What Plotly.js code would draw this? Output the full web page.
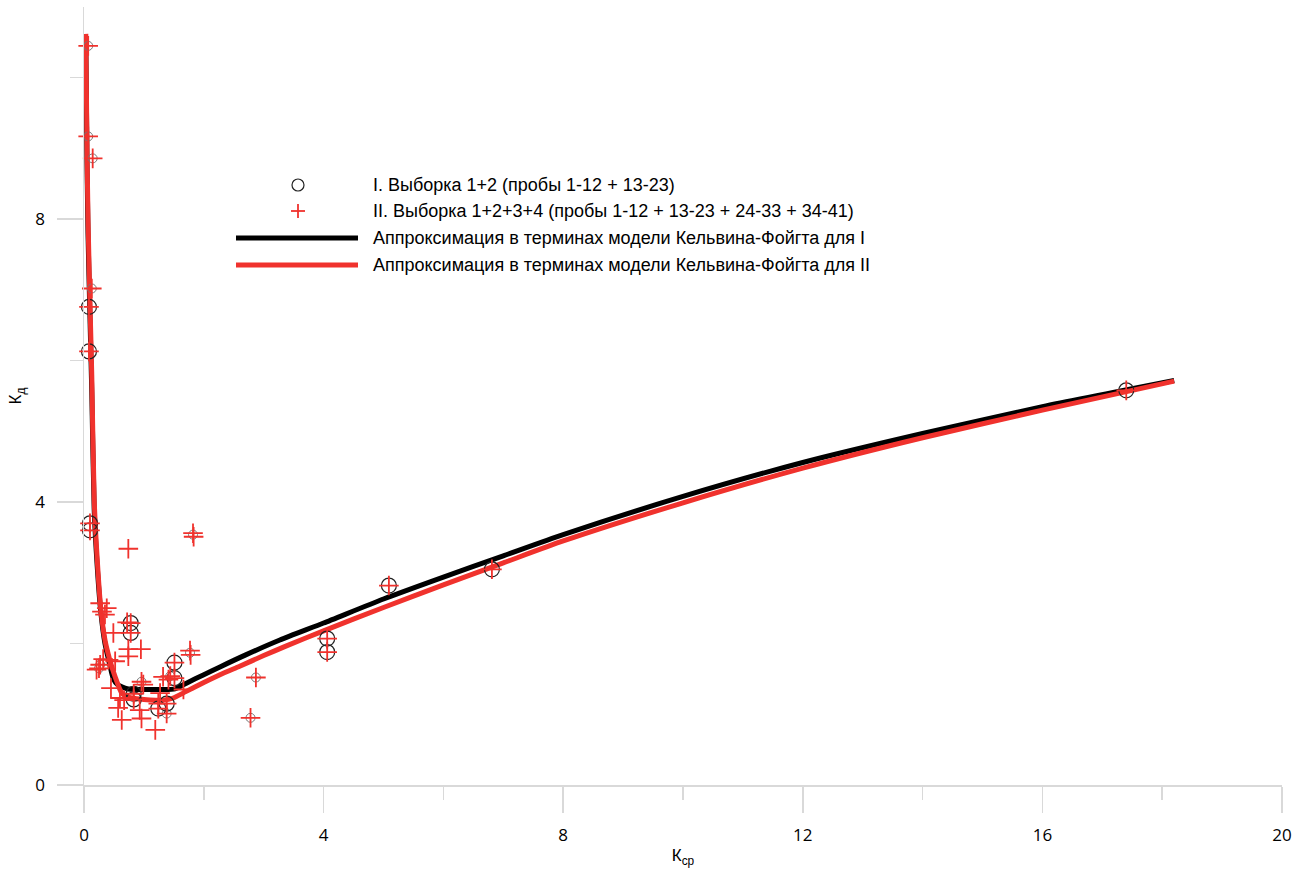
<!DOCTYPE html>
<html>
<head>
<meta charset="utf-8">
<script src="https://cdn.plot.ly/plotly-3.0.1.min.js"></script>
<style>html,body{margin:0;padding:0;background:#fff;}#chart{width:1301px;height:869px;}</style>
</head>
<body>
<div id="chart"></div>
<script>
// Set I (samples 1-23): large open circles
const kcp1 = [0.083, 0.083, 0.10, 0.10, 0.78, 0.78, 0.83, 0.83, 1.24, 1.38, 1.51, 1.51, 4.06, 4.06, 5.09, 6.81, 17.4];
const kd1  = [6.76, 6.13, 3.70, 3.60, 2.29, 2.15, 1.29, 1.21, 1.08, 1.15, 1.73, 1.51, 2.07, 1.88, 2.82, 3.05, 5.58];
// small grey circles
const kcpS = [0.07, 0.07, 0.145, 0.13, 1.82, 0.27, 0.25, 1.77, 0.96, 1.44, 1.38, 2.87, 2.78];
const kdS  = [10.45, 9.17, 8.86, 7.02, 3.54, 1.70, 1.65, 1.87, 1.46, 1.54, 1.01, 1.52, 0.95];
// Set II (samples 1-41): red crosses
const kcp2 = [0.083, 0.083, 0.10, 0.10, 0.78, 0.78, 0.83, 0.83, 1.24, 1.38, 1.51, 1.51, 4.06, 4.06, 5.09, 6.81, 17.4,
              0.07, 0.07, 0.145, 0.13, 1.82, 1.83, 0.27, 0.25, 1.77, 1.78, 0.96, 1.44, 1.38, 2.87, 2.78,
              0.74, 0.27, 0.38, 0.30, 0.35, 0.49, 0.72, 0.74, 0.95, 0.74, 0.41, 0.52, 0.21, 0.32,
              0.45, 0.60, 0.57, 0.63, 0.99, 0.93, 0.96, 1.19, 1.32, 1.41, 1.27, 1.24, 1.66, 0.67];
const kd2  = [6.76, 6.13, 3.70, 3.60, 2.29, 2.15, 1.29, 1.21, 1.08, 1.15, 1.73, 1.51, 2.07, 1.88, 2.82, 3.05, 5.58,
              10.45, 9.17, 8.86, 7.02, 3.56, 3.51, 1.70, 1.65, 1.90, 1.84, 1.46, 1.54, 1.01, 1.52, 0.95,
              3.34, 2.57, 2.50, 2.45, 2.41, 2.15, 2.30, 1.92, 1.92, 1.82, 1.77, 1.75, 1.63, 1.78,
              1.37, 1.23, 1.09, 0.92, 1.42, 1.06, 0.94, 0.78, 1.53, 1.49, 1.30, 1.15, 1.35, 1.20];
// Kelvin-Voigt approximation for I (black)
const fitXI = [0.03, 0.05, 0.067, 0.10, 0.13, 0.17, 0.22, 0.28, 0.35, 0.43, 0.49, 0.56, 0.63, 0.72, 0.88, 1.1, 1.3, 1.52, 1.71, 2.0, 2.27, 2.7, 3.27, 4.0, 5.0, 6.0, 7.0, 8.0, 10, 12, 14, 16, 18.2];
const fitYI = [10.55, 8.8, 7.8, 6.6, 5.55, 3.9, 3.1, 2.45, 2.0, 1.7, 1.5, 1.42, 1.39, 1.36, 1.35, 1.35, 1.35, 1.36, 1.44, 1.56, 1.67, 1.84, 2.05, 2.29, 2.63, 2.94, 3.24, 3.54, 4.08, 4.56, 4.97, 5.35, 5.72];
// Kelvin-Voigt approximation for II (red)
const fitXII = [0.03, 0.05, 0.067, 0.10, 0.13, 0.17, 0.22, 0.28, 0.35, 0.43, 0.52, 0.63, 0.72, 0.8, 1.0, 1.2, 1.32, 1.49, 1.7, 2.0, 2.27, 2.6, 3.0, 3.36, 4.0, 5.0, 6.0, 7.0, 8.0, 10, 12, 14, 16, 18.2];
const fitYII = [10.62, 9.0, 8.0, 6.8, 5.78, 4.04, 3.2, 2.5, 2.05, 1.77, 1.53, 1.3, 1.25, 1.23, 1.21, 1.2, 1.2, 1.23, 1.32, 1.45, 1.56, 1.68, 1.83, 1.96, 2.18, 2.51, 2.83, 3.14, 3.45, 3.99, 4.48, 4.91, 5.30, 5.71];
// axis ticks
const xTicks = [0, 4, 8, 12, 16, 20];
const yTicks = [0, 4, 8];
const legendTexts = [
  'I. Выборка 1+2 (пробы 1-12 + 13-23)',
  'II. Выборка 1+2+3+4 (пробы 1-12 + 13-23 + 24-33 + 34-41)',
  'Аппроксимация в терминах модели Кельвина-Фойгта для I',
  'Аппроксимация в терминах модели Кельвина-Фойгта для II'
];

const RED = '#f0322d';
const GRID = '#d9d9d9';
const FONT = 'Liberation Sans, Arial, sans-serif';

const traces = [
  {x: fitXI, y: fitYI, mode: 'lines', name: legendTexts[2], line: {color: '#000', width: 5, shape: 'spline', smoothing: 0.6}, showlegend: false},
  {x: fitXII, y: fitYII, mode: 'lines', name: legendTexts[3], line: {color: RED, width: 5, shape: 'spline', smoothing: 0.6}, showlegend: false},
  {x: kcpS, y: kdS, mode: 'markers', name: 'small', marker: {symbol: 'circle-open', size: 9, color: '#777', line: {width: 1}}, showlegend: false, cliponaxis: false},
  {x: kcp1, y: kd1, mode: 'markers', name: legendTexts[0], marker: {symbol: 'circle-open', size: 15, color: '#222', line: {width: 1.2}}, showlegend: false, cliponaxis: false},
  {x: kcp2, y: kd2, mode: 'markers', name: legendTexts[1], marker: {symbol: 'cross-thin-open', size: 14, color: RED, line: {width: 1.8, color: RED}}, showlegend: false, cliponaxis: false}
];

// manual legend (paper coords)
const L = 84, T = 7, W = 1198, H = 778;
const px = v => (v - L) / W;
const py = v => (T + H - v) / H;
const rows = [185, 211, 238, 265];
const shapes = [
  {type: 'circle', xref: 'paper', yref: 'paper', xsizemode: 'pixel', ysizemode: 'pixel', xanchor: px(298), yanchor: py(rows[0]), x0: -6, x1: 6, y0: -6, y1: 6, line: {color: '#222', width: 1.2}},
  {type: 'line', xref: 'paper', yref: 'paper', xsizemode: 'pixel', ysizemode: 'pixel', xanchor: px(298), yanchor: py(rows[1]), x0: -7, x1: 7, y0: 0, y1: 0, line: {color: RED, width: 1.8}},
  {type: 'line', xref: 'paper', yref: 'paper', xsizemode: 'pixel', ysizemode: 'pixel', xanchor: px(298), yanchor: py(rows[1]), x0: 0, x1: 0, y0: -7, y1: 7, line: {color: RED, width: 1.8}},
  {type: 'line', xref: 'paper', yref: 'paper', x0: px(236), x1: px(358), y0: py(rows[2]), y1: py(rows[2]), line: {color: '#000', width: 5}},
  {type: 'line', xref: 'paper', yref: 'paper', x0: px(236), x1: px(358), y0: py(rows[3]), y1: py(rows[3]), line: {color: RED, width: 5}}
];
const annotations = legendTexts.map((t, i) => ({
  text: t, xref: 'paper', yref: 'paper', x: px(371), y: py(rows[i]), xanchor: 'left', yanchor: 'middle',
  showarrow: false, font: {family: FONT, size: 18, color: '#000'}
}));

const layout = {
  width: 1301, height: 869, autosize: false,
  margin: {l: L, r: 1301 - L - W, t: T, b: 869 - T - H},
  paper_bgcolor: '#fff', plot_bgcolor: '#fff',
  showlegend: false,
  xaxis: {
    range: [0, 20], tickvals: xTicks, ticktext: xTicks.map(String),
    ticks: 'outside', ticklen: 26, tickwidth: 1.5, tickcolor: GRID,
    showline: true, linecolor: GRID, linewidth: 1.5, showgrid: false, zeroline: false,
    minor: {dtick: 2, tick0: 0, ticks: 'outside', ticklen: 13, tickwidth: 1.5, tickcolor: GRID, showgrid: false},
    tickfont: {family: 'Open Sans, sans-serif', size: 17, color: '#000'}, ticklabelstandoff: 8,
    title: {text: 'К<sub>ср</sub>', font: {family: FONT, size: 17, color: '#000'}, standoff: 4}
  },
  yaxis: {
    range: [0, 11], tickvals: yTicks, ticktext: yTicks.map(String),
    ticks: 'outside', ticklen: 26, tickwidth: 1.5, tickcolor: GRID,
    showline: true, linecolor: GRID, linewidth: 1.5, showgrid: false, zeroline: false,
    minor: {dtick: 2, tick0: 0, ticks: 'outside', ticklen: 13, tickwidth: 1.5, tickcolor: GRID, showgrid: false},
    tickfont: {family: 'Open Sans, sans-serif', size: 17, color: '#000'}, ticklabelstandoff: 8,
    title: {text: 'К<sub>д</sub>', font: {family: FONT, size: 17, color: '#000'}, standoff: 9}
  },
  shapes: shapes,
  annotations: annotations
};

Plotly.newPlot('chart', traces, layout, {displayModeBar: false, staticPlot: true});
</script>
</body>
</html>
